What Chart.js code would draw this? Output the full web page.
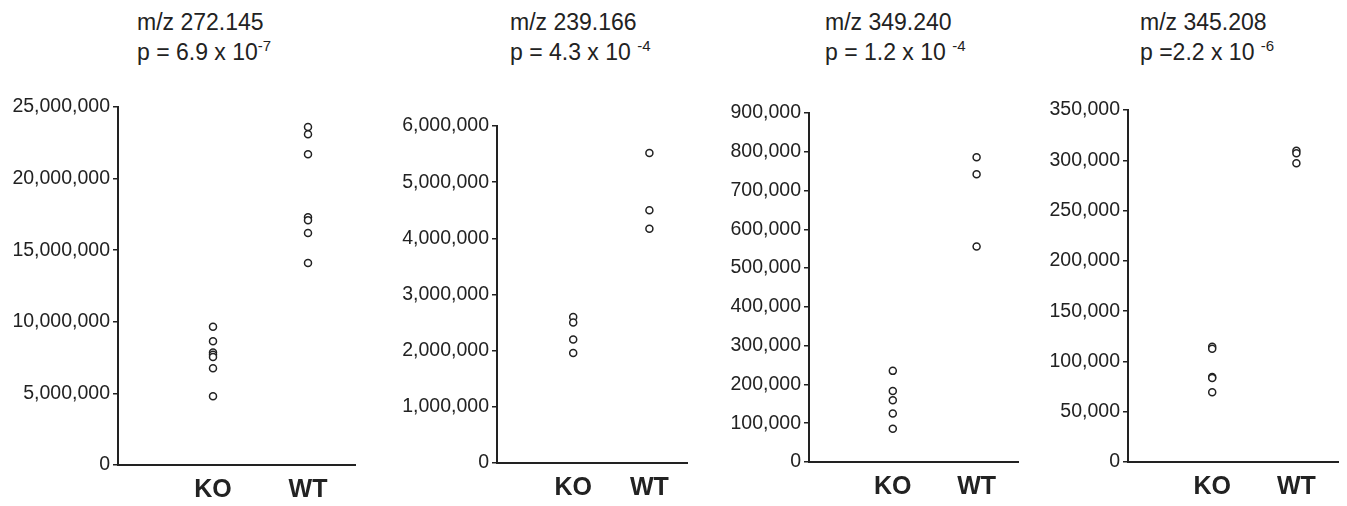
<!DOCTYPE html>
<html>
<head>
<meta charset="utf-8">
<script src="https://cdn.jsdelivr.net/npm/chart.js@4.4.0/dist/chart.umd.min.js"></script>
<style>
  body { margin: 0; background: #fff; width: 1347px; height: 506px; position: relative; overflow: hidden;
         font-family: "Liberation Sans", Arial, sans-serif; color: #222; }
  .title { position: absolute; font-size: 23px; line-height: 30px; white-space: nowrap; }
  .title sup { font-size: 15px; vertical-align: 9px; line-height: 0; }
  .panel { position: absolute; top: 80px; }
</style>
</head>
<body>
<div class="title" style="left:137px; top:7px">m/z 272.145<br>p = 6.9 x 10<sup>-7</sup></div>
<div class="title" style="left:510px; top:7px">m/z 239.166<br>p = 4.3 x 10 <sup>-4</sup></div>
<div class="title" style="left:825px; top:7px">m/z 349.240<br>p = 1.2 x 10 <sup>-4</sup></div>
<div class="title" style="left:1140px; top:7px">m/z 345.208<br>p =2.2 x 10 <sup>-6</sup></div>

<div class="panel" style="left:0px"><canvas id="c1"></canvas></div>
<div class="panel" style="left:379px"><canvas id="c2"></canvas></div>
<div class="panel" style="left:691px"><canvas id="c3"></canvas></div>
<div class="panel" style="left:1010px"><canvas id="c4"></canvas></div>

<script>
// groups on the x axis
const groups = ['KO', 'WT'];

// intensities
const mz272KO = [9650000, 8650000, 7850000, 7700000, 7550000, 6750000, 4800000];
const mz272WT = [23600000, 23100000, 21700000, 17300000, 17100000, 16200000, 14100000];
const mz239KO = [2600000, 2500000, 2200000, 1960000];
const mz239WT = [5520000, 4500000, 4170000];
const mz349KO = [235000, 183000, 159000, 125000, 86000];
const mz349WT = [786000, 742000, 556000];
const mz345KO = [114500, 112500, 84600, 83600, 69300];
const mz345WT = [309600, 307000, 297000];

// y axis range of each panel
const yMax = [25000000, 6000000, 900000, 350000];
const yStep = [5000000, 1000000, 100000, 50000];

// where each panel sits (chart area top / bottom / right edge)
const panels = [
  { id: 'c1', ko: mz272KO, wt: mz272WT, top: 107, bottom: 465, right: 361, left: 0 },
  { id: 'c2', ko: mz239KO, wt: mz239WT, top: 126, bottom: 463, right: 693, left: 379 },
  { id: 'c3', ko: mz349KO, wt: mz349WT, top: 113, bottom: 462, right: 1024, left: 691 },
  { id: 'c4', ko: mz345KO, wt: mz345WT, top: 110, bottom: 462, right: 1344, left: 1010 },
];

const ink = '#222';
const font = '"Liberation Sans", Arial, sans-serif';
const yAxisW = 118;
const xAxisH = 41;

panels.forEach((p, i) => {
  const canvas = document.getElementById(p.id);
  const w = p.right - p.left;
  const h = p.bottom + xAxisH - 80;
  canvas.width = w;
  canvas.height = h;
  canvas.style.width = w + 'px';
  canvas.style.height = h + 'px';

  const pts = [];
  p.ko.forEach(v => pts.push({ x: 1, y: v }));
  p.wt.forEach(v => pts.push({ x: 2, y: v }));

  new Chart(canvas.getContext('2d'), {
    type: 'scatter',
    data: {
      datasets: [{
        data: pts,
        pointRadius: 3.5,
        pointBorderWidth: 1.5,
        pointBorderColor: ink,
        pointBackgroundColor: '#fff',
      }]
    },
    options: {
      responsive: false,
      animation: false,
      layout: { padding: { top: p.top - 80, right: 0, bottom: 0, left: 0 } },
      plugins: { legend: { display: false }, tooltip: { enabled: false } },
      scales: {
        x: {
          type: 'linear',
          min: 0,
          max: 2.5,
          afterBuildTicks: s => { s.ticks = [{ value: 1 }, { value: 2 }]; },
          afterFit: s => { s.height = xAxisH; },
          ticks: {
            callback: v => groups[v - 1],
            font: { family: font, size: 25, weight: 'bold' },
            color: ink,
            padding: 10,
            autoSkip: false,
            maxRotation: 0,
          },
          grid: { display: false, drawTicks: false },
          border: { color: ink, width: 2 },
        },
        y: {
          min: 0,
          max: yMax[i],
          afterFit: s => { s.width = yAxisW; },
          ticks: {
            stepSize: yStep[i],
            callback: v => v.toLocaleString('en-US'),
            font: { family: font, size: 19.5 },
            color: ink,
            padding: 3,
          },
          grid: { drawOnChartArea: false, drawTicks: true, tickLength: 5, color: ink, lineWidth: 1.5 },
          border: { color: ink, width: 2 },
        }
      }
    }
  });
});
</script>
</body>
</html>
